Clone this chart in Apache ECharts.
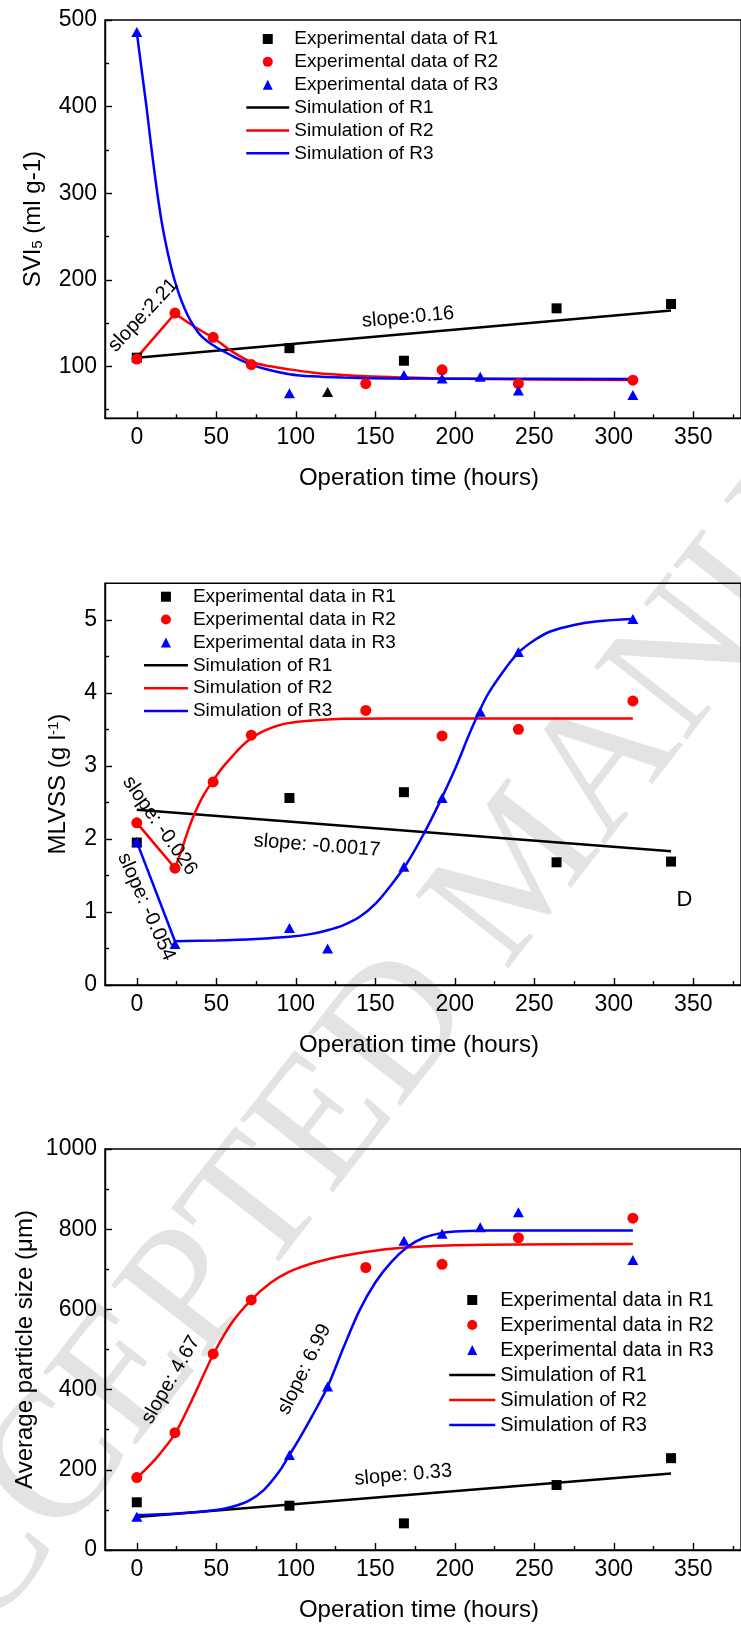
<!DOCTYPE html>
<html><head><meta charset="utf-8">
<script src="https://cdn.jsdelivr.net/npm/echarts@6/dist/echarts.min.js"></script>
<style>html,body{margin:0;padding:0;background:#fff}#c{width:741px;height:1625px}</style>
</head><body><div id="c"></div>
<script>
// ---------- shared axis ticks ----------
const xTicks = [0, 50, 100, 150, 200, 250, 300, 350];
const xMinorTicks = [25, 75, 125, 175, 225, 275, 325, 375];
const y1Ticks = [100, 200, 300, 400, 500];
const y1MinorTicks = [50, 150, 250, 350, 450];
const y2Ticks = [0, 1, 2, 3, 4, 5];
const y2MinorTicks = [0.5, 1.5, 2.5, 3.5, 4.5];
const y3Ticks = [0, 200, 400, 600, 800, 1000];
const y3MinorTicks = [100, 300, 500, 700, 900];

// ---------- chart 1: SVI5 ----------
const sviR1 = [[0,110],[96,121],[168,106.5],[264,167],[336,172]];
const sviR1Extra = [[120,70.5]];
const sviR2 = [[0,108.5],[24,161.5],[48,133.5],[72,102],[144,80],[192,96],[240,80],[312,84]];
const sviR3 = [[0,486],[96,69],[168,90],[192,86],[216,88],[240,72],[312,67]];
const sviSimR1 = [[0,110],[336,164.5]];
const sviSimR2Start = [[0,110],[24,161]];
const sviSimR2 = [[24,161],[36,146],[48,133],[60,117],[72,105],[84,100],[96,96.5],[110,93],[125,90.5],[144,88.5],[170,87],[192,86],[250,84.8],[312,84.2]];
const sviSimR3 = [[0,486],[3,443],[6,401],[9,355],[12,312],[15,274],[18,244],[21,219],[24,198],[28,176],[32,159],[36,146],[40,136],[45,128],[50,122],[55,117],[60,112],[72,102],[84,95.5],[96,91],[110,88.5],[130,87],[160,86],[200,85.8],[312,85.5]];

// ---------- chart 2: MLVSS ----------
const mlR1 = [[0,1.95],[96,2.56],[168,2.64],[264,1.68],[336,1.69]];
const mlR2 = [[0,2.22],[24,1.6],[48,2.78],[72,3.42],[144,3.76],[192,3.41],[240,3.5],[312,3.89]];
const mlR3 = [[0,1.96],[24,0.56],[96,0.78],[120,0.5],[168,1.62],[192,2.56],[216,3.74],[240,4.56],[312,5.01]];
const mlSimR1 = [[0,2.4],[336,1.83]];
const mlSimR2Start = [[0,2.22],[24,1.6]];
const mlSimR2 = [[24,1.6],[28,1.84],[32,2.1],[36,2.33],[42,2.6],[48,2.8],[54,2.98],[60,3.13],[66,3.27],[72,3.38],[80,3.48],[90,3.56],[100,3.6],[115,3.63],[130,3.645],[160,3.65],[312,3.65]];
const mlSimR3Start = [[0,1.96],[24,0.6]];
const mlSimR3 = [[24,0.6],[50,0.61],[75,0.63],[96,0.66],[110,0.7],[120,0.75],[130,0.82],[140,0.93],[150,1.11],[160,1.37],[170,1.67],[180,2.05],[190,2.48],[200,2.95],[210,3.48],[220,3.95],[230,4.28],[240,4.55],[250,4.72],[260,4.84],[275,4.93],[290,4.98],[312,5.01]];

// ---------- chart 3: particle size ----------
const psR1 = [[0,119],[96,110.5],[168,66.5],[264,162],[336,229]];
const psR2 = [[0,180.5],[24,292.5],[48,489],[72,623.5],[144,704.5],[192,712.5],[240,778.5],[312,827.5]];
const psR3 = [[0,83],[96,237],[120,407.5],[168,771.5],[192,788.5],[216,805],[240,842.5],[312,723.5]];
const psSimR1 = [[0,82],[336,191]];
const psSimR2 = [[0,180],[12,228],[24,290],[36,385],[48,487],[60,568],[72,624],[84,666],[96,694],[108,712],[120,725],[132,735],[144,743],[160,751],[180,757],[200,760],[240,762],[312,763]];
const psSimR3 = [[0,87],[25,91],[50,100],[60,108],[70,122],[80,150],[90,198],[96,237],[103,283],[110,332],[120,407],[130,505],[140,597],[150,667],[160,718],[170,755],[180,778],[190,789],[200,794],[220,796.5],[250,797],[312,797]];

// ---------- annotation texts (anchored in data space) ----------
const notes = [
  {g:0, at:[4,159], text:'slope:2.21', rot:47},
  {g:0, at:[170.6,156.6], text:'slope:0.16', rot:5},
  {g:1, at:[14.5,2.18], text:'slope: -0.026', rot:-55},
  {g:1, at:[6,1.07], text:'slope: -0.054', rot:-66},
  {g:1, at:[113.3,1.91], text:'slope: -0.0017', rot:-4.4},
  {g:1, at:[344.4,1.17], text:'D', rot:0, big:true},
  {g:2, at:[21.4,424], text:'slope: 4.67', rot:60},
  {g:2, at:[105.4,450.6], text:'slope: 6.99', rot:64},
  {g:2, at:[167.6,187], text:'slope: 0.33', rot:5}
];

const F = 'Liberation Sans, Arial, Helvetica, sans-serif';
const BLACK = '#000000', RED = '#ff0000', BLUE = '#0000ff';

const grids = [
  {left:105, top:20, width:652.8, height:398.3},
  {left:105, top:583.3, width:652.8, height:401.7},
  {left:105, top:1149, width:652.8, height:401}
];
const yRanges = [[40,500],[0,5.5],[0,1000]];
const yMajor = [y1Ticks, y2Ticks, y3Ticks];
const yMinor = [y1MinorTicks, y2MinorTicks, y3MinorTicks];
const yNames = [
  '{a|SVI}{s|5}{a| (ml g-1)}',
  '{a|MLVSS (g l}{p|-1}{a|)}',
  '{a|Average particle size (\u03bcm)}'
];
const yNameGaps = [60, 35, 68];

const axisLineStyle = {color:BLACK, width:1.4};
const richName = {
  a:{fontSize:24, fontFamily:F, color:BLACK, lineHeight:24},
  s:{fontSize:15, fontFamily:F, color:BLACK, lineHeight:10, verticalAlign:'bottom'},
  p:{fontSize:15, fontFamily:F, color:BLACK, lineHeight:10, verticalAlign:'top'}
};
const plainNum = v => String(v);

const xAxes = [], yAxes = [];
grids.forEach((g, i) => {
  xAxes.push({
    gridIndex:i, type:'value', min:-20, max:380, position:'bottom',
    axisLine:{show:true, onZero:false, lineStyle:axisLineStyle},
    axisTick:{show:true, inside:true, length:7, customValues:xTicks, lineStyle:axisLineStyle},
    axisLabel:{show:true, customValues:xTicks, margin:8, color:BLACK, fontSize:23, fontFamily:F, formatter:plainNum},
    splitLine:{show:false},
    name:'Operation time (hours)', nameLocation:'middle', nameGap:48, nameMoveOverlap:false,
    nameTextStyle:{fontSize:24, fontFamily:F, color:BLACK, padding:[0,8,0,0]}
  });
  xAxes.push({
    gridIndex:i, type:'value', min:-20, max:380, position:'bottom',
    axisLine:{show:false, onZero:false},
    axisTick:{show:true, inside:true, length:4, customValues:xMinorTicks, lineStyle:axisLineStyle},
    axisLabel:{show:false}, splitLine:{show:false}
  });
  yAxes.push({
    gridIndex:i, type:'value', min:yRanges[i][0], max:yRanges[i][1], position:'left',
    axisLine:{show:true, onZero:false, lineStyle:axisLineStyle},
    axisTick:{show:true, inside:true, length:7, customValues:yMajor[i], lineStyle:axisLineStyle},
    axisLabel:{show:true, customValues:yMajor[i], margin:8, color:BLACK, fontSize:23, fontFamily:F, formatter:plainNum},
    splitLine:{show:false},
    name:yNames[i], nameLocation:'middle', nameGap:yNameGaps[i], nameMoveOverlap:false,
    nameTextStyle:{rich:richName}
  });
  yAxes.push({
    gridIndex:i, type:'value', min:yRanges[i][0], max:yRanges[i][1], position:'left',
    axisLine:{show:false, onZero:false},
    axisTick:{show:true, inside:true, length:4, customValues:yMinor[i], lineStyle:axisLineStyle},
    axisLabel:{show:false}, splitLine:{show:false}
  });
});

function scat(name, data, g, symbol, size, color) {
  return {type:'scatter', name, data, xAxisIndex:2*g, yAxisIndex:2*g, symbol, symbolSize:size,
    itemStyle:{color, opacity:1}, z:3, silent:true};
}
function line(name, data, g, color, smooth) {
  return {type:'line', name, data, xAxisIndex:2*g, yAxisIndex:2*g, symbol:'none', showSymbol:false,
    smooth: smooth ? 0.3 : false, lineStyle:{color, width:2.5}, itemStyle:{color}, z:2, silent:true};
}
const SQ = 10, CI = 11, TR = [11,10];
const series = [
  line('Simulation of R1', sviSimR1, 0, BLACK),
  line('R2 start', sviSimR2Start, 0, RED),
  line('Simulation of R2', sviSimR2, 0, RED, true),
  line('Simulation of R3', sviSimR3, 0, BLUE, true),
  scat('Experimental data of R1', sviR1, 0, 'rect', SQ, BLACK),
  scat('R1 extra', sviR1Extra, 0, 'triangle', TR, BLACK),
  scat('Experimental data of R2', sviR2, 0, 'circle', CI, RED),
  scat('Experimental data of R3', sviR3, 0, 'triangle', TR, BLUE),

  line('Simulation of R1', mlSimR1, 1, BLACK),
  line('R2 start', mlSimR2Start, 1, RED),
  line('Simulation of R2', mlSimR2, 1, RED, true),
  line('R3 start', mlSimR3Start, 1, BLUE),
  line('Simulation of R3', mlSimR3, 1, BLUE, true),
  scat('Experimental data in R1', mlR1, 1, 'rect', SQ, BLACK),
  scat('Experimental data in R2', mlR2, 1, 'circle', CI, RED),
  scat('Experimental data in R3', mlR3, 1, 'triangle', TR, BLUE),

  line('Simulation of R1', psSimR1, 2, BLACK),
  line('Simulation of R2', psSimR2, 2, RED, true),
  line('Simulation of R3', psSimR3, 2, BLUE, true),
  scat('Experimental data in R1', psR1, 2, 'rect', SQ, BLACK),
  scat('Experimental data in R2', psR2, 2, 'circle', CI, RED),
  scat('Experimental data in R3', psR3, 2, 'triangle', TR, BLUE)
];

const ICON_SQ = 'path://M0,0H10V10H0Z';
const ICON_CI = 'path://M5,0A5,5,0,1,1,5,10A5,5,0,1,1,5,0Z';
const ICON_TR = 'path://M5,0L10,10L0,10Z';
function legend(prefix, left, top, itemWidth, fontSize, gap) {
  const hide = {opacity:0};
  return {
    orient:'vertical', left, top, padding:0, itemWidth, itemHeight:10, itemGap:gap,
    selectedMode:false, symbolKeepAspect:true,
    textStyle:{fontSize, lineHeight:fontSize, color:BLACK, fontFamily:F},
    lineStyle:{width:2.5},
    data:[
      {name:prefix + 'R1', icon:ICON_SQ, itemStyle:{opacity:1}},
      {name:prefix + 'R2', icon:ICON_CI, itemStyle:{opacity:1}},
      {name:prefix + 'R3', icon:ICON_TR, itemStyle:{opacity:1}},
      {name:'Simulation of R1', itemStyle:hide},
      {name:'Simulation of R2', itemStyle:hide},
      {name:'Simulation of R3', itemStyle:hide}
    ]
  };
}

const chart = echarts.init(document.getElementById('c'), null, {renderer:'canvas', width:741, height:1625});
chart.setOption({
  animation:false,
  backgroundColor:'#ffffff',
  textStyle:{fontFamily:F},
  grid: grids.map(g => Object.assign({show:true, borderColor:BLACK, borderWidth:1.4, backgroundColor:'transparent', containLabel:false}, g)),
  xAxis:xAxes, yAxis:yAxes,
  legend:[
    legend('Experimental data of ', 245, 29.5, 43, 19, 3.86),
    legend('Experimental data in ', 142.7, 587.2, 44, 19, 3.86),
    legend('Experimental data in ', 448, 1290, 46, 20, 5)
  ],
  series
});

const els = [{
  type:'text', x:525, y:870, rotation:52*Math.PI/180, z:-10, silent:true,
  style:{text:'ACCEPTED MANUSCRIPT', font:'180px "Liberation Serif", "Times New Roman", serif',
    fill:'#e3e3e3', align:'center', verticalAlign:'middle'}
}];
notes.forEach(n => {
  const p = chart.convertToPixel({xAxisIndex:2*n.g, yAxisIndex:2*n.g}, n.at);
  els.push({
    type:'text', x:p[0], y:p[1], rotation:n.rot*Math.PI/180, z:10, silent:true,
    style:{text:n.text, fontSize:n.big ? 22 : 20, fontFamily:F, fill:BLACK, align:'center', verticalAlign:'middle'}
  });
});
chart.setOption({graphic:{elements:els}});
</script>
</body></html>
